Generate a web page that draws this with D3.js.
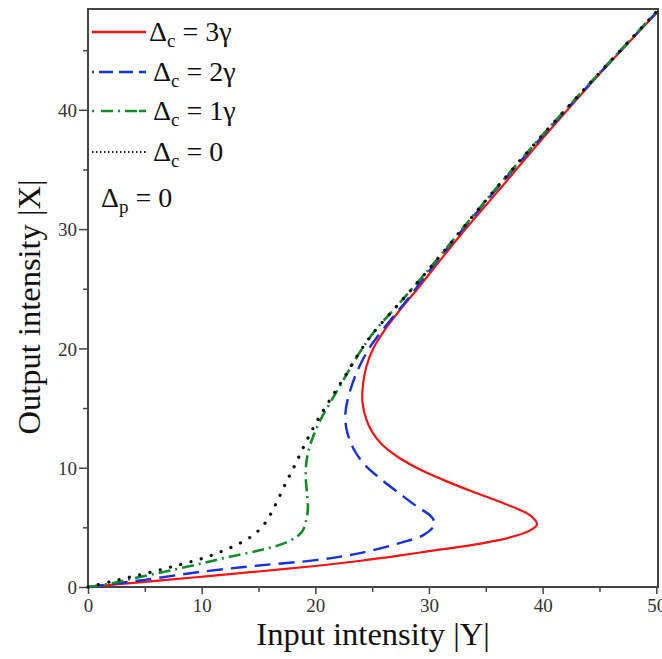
<!DOCTYPE html>
<html>
<head>
<meta charset="utf-8">
<script src="https://cdn.jsdelivr.net/npm/d3@7"></script>
<style>
  body { margin: 0; background: #fff; }
  text { font-family: "Liberation Serif", "DejaVu Serif", serif; }
</style>
</head>
<body>
<div id="res"></div>
<script>
/* data: [input |Y|, output |X|] along each curve */
var xTicks = [0, 10, 20, 30, 40, 50];
var xMinor = [5, 15, 25, 35, 45];
var yTicks = [0, 10, 20, 30, 40];
var yMinor = [5, 15, 25, 35, 45];

var labels = ["3\u03b3", "2\u03b3", "1\u03b3", "0"];
var colors = ["#ff1010", "#1530e0", "#118a2a", "#111111"];

var curve3 = [[0,0],[5,0.43],[10,0.86],[15,1.3],[20,1.76],[24,2.2],[27.5,2.65],[30,3.0],[33.3,3.45],[36.9,4.1],[38.9,4.75],[39.5,5.25],[38.9,6.0],[36.6,7.0],[33.8,8.0],[31.2,9.0],[28.9,10.0],[27.1,11.0],[25.8,12.0],[25.0,13.0],[24.5,14.0],[24.15,15.5],[24.2,17.0],[24.5,18.5],[25.1,20.0],[26.3,21.8],[27.6,23.4],[29.0,25.0],[30.5,26.8],[32.6,29.3],[36,33.1],[40,37.6],[45,43.0],[50,48.1]];
var curve2 = [[0,0],[2.5,0.3],[5,0.6],[10,1.28],[15,1.8],[20,2.25],[23.7,2.8],[27.5,3.7],[29.5,4.35],[30.4,5.05],[30.5,5.4],[30.1,6.0],[29,6.7],[27.6,7.7],[25.7,9.1],[24.3,10.3],[23.3,11.7],[22.75,13.2],[22.65,14.6],[22.9,15.9],[23.6,17.9],[24.8,20.1],[26.3,22.0],[28.1,24.1],[30.4,26.95],[35,32.3],[40,37.8],[45,43.05],[50,48.15]];
var curve1 = [[0,0],[2,0.3],[4.1,0.75],[7.3,1.4],[10.1,2.0],[12.3,2.5],[15.2,3.1],[17.6,3.8],[18.8,4.6],[19.2,5.6],[19.35,6.7],[19.25,8.0],[19.15,9.5],[19.3,11.0],[19.8,12.6],[20.5,14.1],[21.4,15.6],[22.5,17.4],[23.7,19.35],[25.1,21.3],[27.5,23.9],[30.4,27.1],[35,32.4],[40,37.9],[45,43.1],[50,48.2]];
var curve0 = [[0,0],[2,0.45],[4,0.9],[6,1.35],[8,1.85],[10,2.38],[11,2.7],[12,3.08],[13,3.5],[14,4.0],[14.8,4.55],[15.45,5.2],[16.0,6.0],[16.55,7.0],[17.4,8.7],[18.3,10.4],[19.2,12.2],[20.2,14.0],[21.3,15.7],[22.5,17.5],[23.7,19.4],[25.1,21.3],[27.5,23.9],[30.4,27.1],[35,32.4],[40,37.9],[45,43.1],[50,48.2]];

var curves = [curve3, curve2, curve1, curve0];

/* size of the graphic */
var width = 662, height = 659;
var plotLeft = 88, plotRight = 658, plotTop = 9, plotBottom = 587;

var svg = d3.select("#res")
  .append("svg")
    .attr("width", width)
    .attr("height", height);

var x = d3.scaleLinear().domain([0, 50.15]).range([plotLeft, plotRight]);
var y = d3.scaleLinear().domain([0, 48.45]).range([plotBottom, plotTop]);

/* axes: major and minor ticks pointing outward */
function styleAxis(g) {
  g.select(".domain").remove();
  g.selectAll("line").attr("stroke", "#444").attr("stroke-width", 1.5);
  g.selectAll("text").attr("fill", "#333").style("font-size", "19px")
    .style("font-family", "'Liberation Serif', serif");
}

svg.append("g")
  .attr("transform", "translate(0," + plotBottom + ")")
  .call(d3.axisBottom(x).tickValues(xTicks).tickSize(7).tickSizeOuter(0))
  .call(styleAxis)
  .selectAll("text").attr("y", 25).attr("dy", 0);

svg.append("g")
  .attr("transform", "translate(0," + plotBottom + ")")
  .call(d3.axisBottom(x).tickValues(xMinor).tickSize(5).tickFormat(""))
  .call(styleAxis);

svg.append("g")
  .attr("transform", "translate(" + plotLeft + ",0)")
  .call(d3.axisLeft(y).tickValues(yTicks).tickSize(9).tickSizeOuter(0))
  .call(styleAxis)
  .selectAll("text").attr("x", -11).attr("dy", "0.35em");

svg.append("g")
  .attr("transform", "translate(" + plotLeft + ",0)")
  .call(d3.axisLeft(y).tickValues(yMinor).tickSize(5).tickFormat(""))
  .call(styleAxis);

/* frame */
svg.append("rect")
  .attr("x", plotLeft).attr("y", plotTop)
  .attr("width", plotRight - plotLeft).attr("height", plotBottom - plotTop)
  .attr("fill", "none").attr("stroke", "#444").attr("stroke-width", 2);

/* curves */
var line = d3.line()
  .x(function(d) { return x(d[0]); })
  .y(function(d) { return y(d[1]); })
  .curve(d3.curveCatmullRom.alpha(0.5));

var dashes = [null, "16,8", "12,5,2,5", "0.1,10.5"];
var caps = ["butt", "butt", "butt", "round"];
var widths = [2.2, 2.4, 2.6, 3.2];

curves.forEach(function(c, i) {
  svg.append("path")
    .datum(c)
    .attr("d", line)
    .attr("fill", "none")
    .attr("stroke", colors[i])
    .attr("stroke-width", widths[i])
    .attr("stroke-linecap", caps[i])
    .attr("stroke-dasharray", dashes[i]);
});

/* legend */
var legendY = [32, 72, 111, 152];
var legendDash = [null, "2,5,14,6,14,6,14", "2,7,12,5,2,5,12", "1.5,2.5"];

labels.forEach(function(lab, i) {
  svg.append("line")
    .attr("x1", 92).attr("x2", 146)
    .attr("y1", legendY[i]).attr("y2", legendY[i])
    .attr("stroke", colors[i])
    .attr("stroke-width", i == 3 ? 2 : 2.6)
    .attr("stroke-dasharray", legendDash[i]);

  var t = svg.append("text")
    .attr("x", i == 0 ? 149 : 153)
    .attr("y", legendY[i] + 9)
    .style("font-size", "28px")
    .attr("fill", "#111");
  t.append("tspan").text("\u0394");
  t.append("tspan").attr("dy", 6).style("font-size", "19px").text("c");
  t.append("tspan").attr("dy", -6).text(" = " + lab);
});

var tp = svg.append("text")
  .attr("x", 101).attr("y", 207)
  .style("font-size", "28px")
  .attr("fill", "#111");
tp.append("tspan").text("\u0394");
tp.append("tspan").attr("dy", 6).style("font-size", "19px").text("p");
tp.append("tspan").attr("dy", -6).text(" = 0");

/* axis titles */
svg.append("text")
  .attr("x", 373).attr("y", 645)
  .attr("text-anchor", "middle")
  .style("font-size", "32.5px")
  .attr("fill", "#111")
  .text("Input intensity |Y|");

svg.append("text")
  .attr("transform", "translate(40,307) rotate(-90)")
  .attr("text-anchor", "middle")
  .style("font-size", "32.5px")
  .attr("fill", "#111")
  .text("Output intensity |X|");
</script>
</body>
</html>
